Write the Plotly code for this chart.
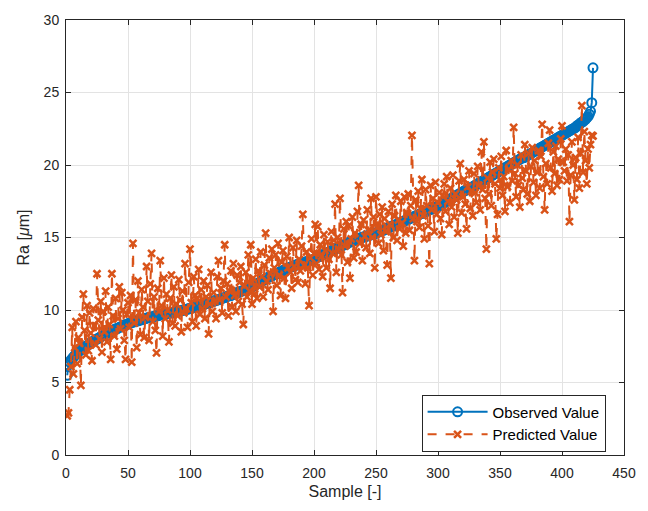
import plotly.graph_objects as go

# Measured surface roughness, sorted ascending
observed = [
    5.5, 6.2, 6.4, 6.55, 6.65, 6.75, 6.85, 6.95, 7.05, 7.1,
    7.2, 7.25, 7.3, 7.4, 7.45, 7.5, 7.55, 7.6, 7.7, 7.75,
    7.8, 7.85, 7.9, 7.95, 8.0, 8.05, 8.1, 8.15, 8.2, 8.25,
    8.3, 8.35, 8.4, 8.45, 8.5, 8.5, 8.55, 8.6, 8.65, 8.7,
    8.7, 8.75, 8.8, 8.85, 8.85, 8.9, 8.95, 9.0, 9.0, 9.05,
    9.1, 9.1, 9.15, 9.15, 9.2, 9.2, 9.25, 9.25, 9.3, 9.3,
    9.35, 9.35, 9.4, 9.4, 9.45, 9.45, 9.5, 9.5, 9.5, 9.55,
    9.55, 9.6, 9.6, 9.6, 9.65, 9.65, 9.7, 9.7, 9.7, 9.75,
    9.75, 9.75, 9.8, 9.8, 9.8, 9.85, 9.85, 9.85, 9.9, 9.9,
    9.9, 9.95, 9.95, 10.0, 10.0, 10.0, 10.05, 10.05, 10.1, 10.1,
    10.15, 10.15, 10.2, 10.2, 10.25, 10.25, 10.3, 10.3, 10.35, 10.35,
    10.4, 10.4, 10.45, 10.45, 10.5, 10.5, 10.55, 10.6, 10.6, 10.65,
    10.65, 10.7, 10.7, 10.75, 10.8, 10.8, 10.85, 10.85, 10.9, 10.95,
    10.95, 11.0, 11.0, 11.05, 11.1, 11.1, 11.15, 11.2, 11.2, 11.25,
    11.3, 11.3, 11.35, 11.4, 11.4, 11.45, 11.5, 11.5, 11.55, 11.6,
    11.65, 11.7, 11.75, 11.8, 11.85, 11.9, 11.95, 12.0, 12.05, 12.1,
    12.15, 12.2, 12.25, 12.3, 12.3, 12.35, 12.4, 12.45, 12.5, 12.5,
    12.55, 12.6, 12.65, 12.7, 12.7, 12.75, 12.8, 12.85, 12.9, 12.9,
    12.95, 13.0, 13.0, 13.05, 13.1, 13.1, 13.15, 13.2, 13.2, 13.25,
    13.25, 13.3, 13.3, 13.35, 13.35, 13.4, 13.4, 13.45, 13.45, 13.5,
    13.55, 13.6, 13.65, 13.7, 13.7, 13.75, 13.8, 13.85, 13.9, 13.9,
    13.95, 14.0, 14.05, 14.1, 14.1, 14.15, 14.2, 14.25, 14.3, 14.3,
    14.35, 14.4, 14.45, 14.5, 14.5, 14.55, 14.6, 14.65, 14.7, 14.7,
    14.75, 14.8, 14.8, 14.85, 14.9, 14.9, 14.95, 15.0, 15.0, 15.05,
    15.05, 15.1, 15.1, 15.15, 15.15, 15.2, 15.2, 15.25, 15.25, 15.3,
    15.35, 15.4, 15.4, 15.45, 15.5, 15.5, 15.55, 15.6, 15.65, 15.65,
    15.7, 15.75, 15.8, 15.8, 15.85, 15.9, 15.9, 15.95, 16.0, 16.05,
    16.05, 16.1, 16.15, 16.2, 16.2, 16.25, 16.3, 16.35, 16.35, 16.4,
    16.45, 16.5, 16.5, 16.55, 16.6, 16.65, 16.65, 16.7, 16.75, 16.8,
    16.8, 16.85, 16.9, 16.95, 16.95, 17.0, 17.05, 17.1, 17.1, 17.15,
    17.2, 17.25, 17.3, 17.35, 17.4, 17.45, 17.5, 17.55, 17.6, 17.65,
    17.7, 17.75, 17.8, 17.85, 17.9, 17.95, 18.0, 18.05, 18.1, 18.15,
    18.2, 18.25, 18.3, 18.3, 18.35, 18.4, 18.45, 18.5, 18.55, 18.6,
    18.65, 18.7, 18.75, 18.8, 18.85, 18.9, 18.95, 19.0, 19.05, 19.1,
    19.15, 19.2, 19.25, 19.3, 19.35, 19.4, 19.45, 19.5, 19.55, 19.6,
    19.65, 19.7, 19.75, 19.8, 19.85, 19.9, 19.95, 20.0, 20.05, 20.1,
    20.15, 20.2, 20.25, 20.3, 20.35, 20.4, 20.45, 20.5, 20.5, 20.55,
    20.6, 20.65, 20.7, 20.75, 20.8, 20.85, 20.9, 20.95, 21.0, 21.05,
    21.1, 21.15, 21.2, 21.25, 21.3, 21.35, 21.4, 21.45, 21.5, 21.55,
    21.6, 21.65, 21.7, 21.75, 21.8, 21.85, 21.9, 21.95, 22.0, 22.05,
    22.1, 22.15, 22.2, 22.25, 22.3, 22.35, 22.4, 22.45, 22.5, 22.55,
    22.6, 22.7, 22.75, 22.8, 22.9, 22.95, 23.0, 23.1, 23.15, 23.25,
    23.35, 23.5, 23.7, 24.3, 26.7,
]

# Model predictions for the same samples
predicted = [
    2.7, 2.9, 4.5, 6.1, 8.8, 5.6, 7.4, 9.2, 6.3, 8.1,
    7.7, 4.8, 9.5, 11.1, 8.6, 6.9, 10.3, 7.2, 9.8, 8.4,
    6.5, 10.1, 8.9, 7.6, 12.5, 9.3, 8.0, 10.6, 7.1, 9.9,
    8.5, 11.3, 7.8, 10.2, 9.0, 6.6, 12.5, 9.6, 8.2, 10.8,
    7.3, 9.4, 11.6, 8.7, 11.2, 10.0, 7.9, 6.6, 9.7, 10.5,
    8.8, 11.0, 6.4, 14.6, 9.1, 10.7, 7.4, 12.0, 9.8, 8.3,
    11.4, 10.2, 8.1, 9.5, 13.0, 10.6, 7.9, 11.8, 13.9, 9.2,
    10.9, 8.6, 7.05, 11.5, 9.9, 13.4, 10.3, 8.2, 12.2, 9.4,
    11.1, 10.0, 7.8, 10.8, 12.4, 9.1, 11.6, 8.9, 10.4, 9.6,
    12.1, 10.7, 8.5, 11.3, 9.8, 13.2, 10.1, 8.8, 11.9, 14.2,
    10.5, 9.2, 12.3, 11.0, 8.9, 10.8, 12.8, 9.7, 11.4, 10.1,
    12.0, 9.4, 10.9, 11.7, 8.35, 10.4, 12.6, 9.9, 11.2, 10.6,
    9.4, 12.3, 13.4, 10.7, 11.5, 9.8, 12.0, 14.5, 10.9, 11.8,
    9.6, 11.3, 12.7, 10.2, 13.2, 11.0, 9.9, 12.4, 10.6, 11.9,
    13.0, 10.4, 9.0, 11.7, 12.6, 10.9, 13.8, 11.3, 14.5, 10.4,
    12.2, 11.1, 13.5, 10.8, 12.7, 11.6, 14.0, 12.3, 10.9, 13.1,
    15.3, 12.0, 11.4, 13.6, 12.5, 14.2, 9.9, 12.9, 13.8, 11.7,
    14.6, 12.4, 11.0, 13.3, 14.1, 12.2, 10.8, 13.7, 12.9, 15.0,
    12.6, 11.5, 14.3, 13.0, 12.1, 14.8, 11.9, 13.5, 12.7, 14.4,
    16.6, 13.1, 11.8, 14.0, 12.9, 10.3, 13.6, 14.9, 12.4, 13.9,
    15.9, 13.2, 15.75, 12.8, 14.5, 13.7, 12.3, 15.2, 14.1, 12.9,
    14.7, 13.5, 11.5, 15.4, 13.9, 14.8, 17.3, 12.6, 15.0, 14.2,
    17.7, 13.8, 11.2, 15.6, 14.4, 16.1, 13.3, 15.8, 12.2, 14.9,
    16.4, 13.6, 15.3, 14.0, 16.8, 18.6, 14.6, 15.9, 13.4, 16.2,
    15.1, 14.3, 16.9, 15.5, 13.9, 17.7, 15.0, 16.4, 12.9, 17.8,
    15.7, 14.6, 16.6, 15.2, 17.1, 14.1, 16.3, 15.4, 13.1, 16.8,
    15.9, 12.2, 17.3, 15.0, 16.5, 17.9, 14.8, 16.2, 15.6, 17.5,
    16.0, 14.4, 17.8, 15.3, 16.7, 18.0, 15.5, 17.2, 22.05, 16.3,
    13.4, 17.6, 16.1, 18.2, 15.7, 17.0, 19.0, 16.5, 14.9, 18.3,
    17.2, 15.8, 13.2, 18.6, 16.9, 17.7, 15.4, 18.8, 16.6, 17.4,
    18.1, 16.3, 15.2, 17.9, 18.7, 16.8, 19.2, 17.5, 15.9, 18.4,
    17.1, 19.3, 16.4, 18.0, 17.6, 15.3, 18.9, 20.1, 16.7, 17.8,
    19.0, 17.3, 15.6, 18.5, 19.6, 17.0, 18.2, 16.5, 19.4, 18.1,
    17.4, 19.9, 18.6, 16.9, 20.9, 18.3, 21.6, 17.7, 14.2, 19.1,
    18.0, 20.2, 17.2, 19.5, 20.4, 18.7, 14.9, 16.6, 19.8, 18.4,
    20.6, 17.9, 19.2, 16.8, 21.0, 18.5, 19.7, 17.4, 20.3, 18.9,
    22.6, 19.4, 17.8, 20.0, 18.6, 17.1, 20.7, 19.1, 18.3, 21.4,
    19.6, 18.0, 20.8, 17.5, 19.9, 21.2, 18.8, 20.3, 17.9, 19.5,
    21.0, 18.4, 20.6, 22.8, 19.2, 16.9, 20.1, 18.7, 21.5, 22.4,
    19.8, 18.2, 20.9, 19.4, 21.3, 18.6, 20.4, 19.0, 21.8, 22.7,
    20.2, 19.6, 21.1, 18.9, 20.7, 16.1, 19.3, 21.6, 20.0, 17.6,
    20.5, 19.0, 21.9, 18.4, 20.8, 24.1, 19.5, 22.3, 20.3, 18.7,
    21.1, 19.8, 21.4, 22.05, 22.0,
]

samples = list(range(1, len(observed) + 1))

BLUE = "#0072BD"
ORANGE = "#D95319"
AXIS = "#262626"
FONT = "Liberation Sans, Arial, Helvetica, sans-serif"

fig = go.Figure()
fig.add_trace(go.Scatter(
    x=samples, y=observed, name="Observed Value", mode="lines+markers",
    line=dict(color=BLUE, width=2),
    marker=dict(symbol="circle-open", size=9, color=BLUE, line=dict(width=2, color=BLUE)),
))
fig.add_trace(go.Scatter(
    x=samples, y=predicted, name="Predicted Value", mode="lines+markers",
    line=dict(color=ORANGE, width=2, dash="dash"),
    marker=dict(symbol="x-thin", size=7, color=ORANGE, line=dict(width=2.5, color=ORANGE)),
))

axis_common = dict(
    showline=True, linecolor=AXIS, linewidth=1, mirror="ticks",
    ticks="inside", ticklen=5, tickcolor=AXIS,
    showgrid=True, gridcolor="#E3E3E3", gridwidth=1,
    zeroline=False, tickfont=dict(family=FONT, size=14, color=AXIS),
)

fig.update_layout(
    width=648, height=511,
    margin=dict(l=66, r=18, t=17, b=56),
    paper_bgcolor="white", plot_bgcolor="white",
    font=dict(family=FONT, color=AXIS),
    xaxis=dict(range=[0, 450], dtick=50, tick0=0, ticklabelstandoff=5,
               title=dict(text="Sample [-]", font=dict(family=FONT, size=16, color=AXIS), standoff=6),
               **axis_common),
    yaxis=dict(range=[0, 30], dtick=5, tick0=0, ticklabelstandoff=3,
               title=dict(text="Ra [<i>μ</i>m]", font=dict(family=FONT, size=16, color=AXIS), standoff=10),
               **axis_common),
    legend=dict(x=0.967, y=0.008, xanchor="right", yanchor="bottom",
                bgcolor="white", bordercolor=AXIS, borderwidth=1,
                font=dict(family=FONT, size=15, color="black"),
                tracegroupgap=0, itemwidth=60),
    showlegend=True,
)

fig.write_html("out.html")
